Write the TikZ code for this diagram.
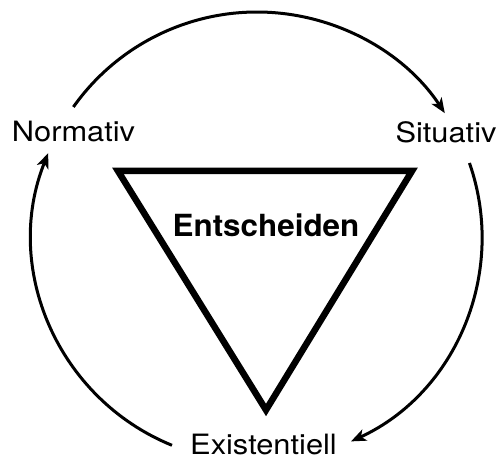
\documentclass[tikz,border=0pt]{standalone}
\usepackage{fontspec}
\setmainfont{TeX Gyre Heros}
\usetikzlibrary{arrows.meta,calc}
\tikzset{lbl/.style={font=\fontsize{28}{31}\selectfont, inner sep=0pt, anchor=base, xscale=1.1},
  title/.style={font=\fontsize{30.5}{33}\selectfont\bfseries, inner sep=0pt, anchor=base, xscale=1.03},
  cyc/.style={-{Stealth[length=15pt,width=12pt,inset=4pt]}, line width=3pt},
  tri/.style={line width=6.5pt, miter limit=10}}

\begin{document}
\begin{tikzpicture}[x=1pt,y=1pt]
\useasboundingbox (0,0) rectangle (499,462);
% ---- labels ----
\node[lbl] (norm) at (73.5,320) {Normativ};
\node[lbl] (sit) at (446,319) {Situativ};
\node[lbl] (ex) at (263.5,7) {Existentiell};
% ---- triangle ----
\coordinate (tl) at (118,291);
\coordinate (tr) at (412,291);
\coordinate (bt) at (266,52);
\draw[tri] (tl) -- (tr) -- (bt) -- cycle;
\node[title] (ent) at (266,225) {Entscheiden};
% ---- cycle ----
\coordinate (c) at (257,225);
\draw[cyc] ($(c)+(144.7:225)$) arc[start angle=144.7, end angle=33.4, radius=225];
\draw[cyc] ($(c)+(19.2:225)$) arc[start angle=19.2, end angle=-65.3, radius=225];
\draw[cyc] ($(c)+(247.8:225)$) arc[start angle=247.8, end angle=158.1, radius=225];
\end{tikzpicture}
\end{document}
